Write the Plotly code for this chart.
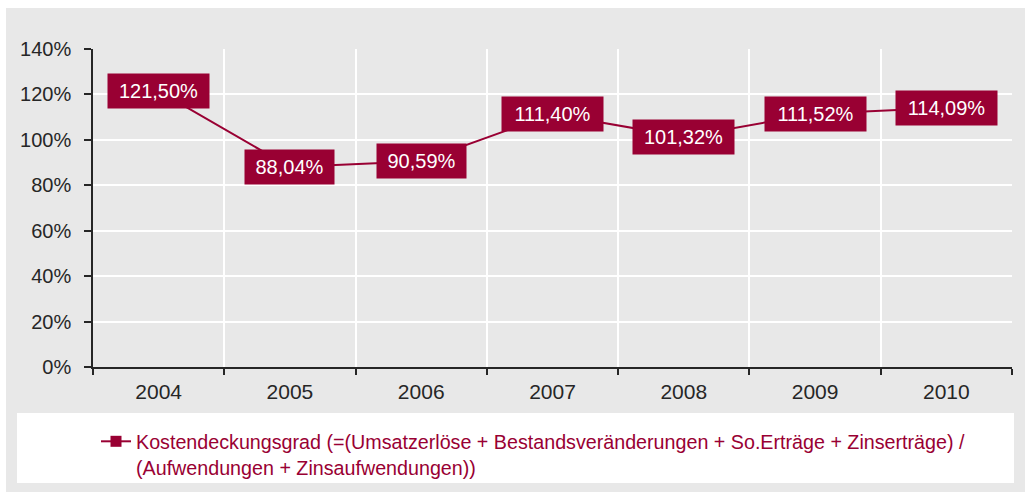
import plotly.graph_objects as go

# Kostendeckungsgrad per year
years = ["2004", "2005", "2006", "2007", "2008", "2009", "2010"]
ratio = [121.50, 88.04, 90.59, 111.40, 101.32, 111.52, 114.09]
labels = ["121,50%", "88,04%", "90,59%", "111,40%", "101,32%", "111,52%", "114,09%"]
y_ticks = [0, 20, 40, 60, 80, 100, 120, 140]
y_tick_text = ["0%", "20%", "40%", "60%", "80%", "100%", "120%", "140%"]
series_name = ("Kostendeckungsgrad (=(Umsatzerlöse + Bestandsveränderungen + So.Erträge + Zinserträge) /"
               "<br>(Aufwendungen + Zinsaufwendungen))")

RED = "#990033"
PANEL = "#e8e8e8"
FONT = "Liberation Sans, Arial, sans-serif"

W, H = 1025, 492
ML, MR, MT, MB = 93, 13, 49, 125
PW = W - ML - MR
PH = H - MT - MB


def px_x(x):
    return (x - ML) / PW


def px_y(y):
    return (H - MB - y) / PH


fig = go.Figure()
fig.add_trace(go.Scatter(
    x=years, y=ratio, name=series_name,
    mode="lines+markers",
    line=dict(color=RED, width=2),
    marker=dict(symbol="square", size=11, color=RED),
    showlegend=True,
))

# value boxes centred on each point (category index as x position)
for i, (v, lab) in enumerate(zip(ratio, labels)):
    fig.add_annotation(
        x=i, y=v, xref="x", yref="y", text=lab, showarrow=False,
        xanchor="center", yanchor="middle",
        bgcolor=RED, borderpad=4,
        width=12 * len(lab) + 9, height=26,
        font=dict(family=FONT, size=20, color="white"),
    )

# grey panel and white legend box
fig.add_shape(type="rect", xref="paper", yref="paper", layer="below",
              x0=px_x(6), x1=px_x(1030), y0=px_y(8), y1=px_y(500),
              fillcolor=PANEL, line_width=0)
fig.add_shape(type="rect", xref="paper", yref="paper", layer="below",
              x0=px_x(17), x1=px_x(1014), y0=px_y(413), y1=px_y(483),
              fillcolor="white", line_width=0)

fig.update_layout(
    width=W, height=H,
    margin=dict(l=ML, r=MR, t=MT, b=MB, autoexpand=False),
    paper_bgcolor="white",
    plot_bgcolor="rgba(0,0,0,0)",
    font=dict(family=FONT, size=20, color="#262626"),
    showlegend=True,
    legend=dict(
        xref="container", yref="container",
        x=96 / W, y=1 - 422 / H, xanchor="left", yanchor="top",
        bgcolor="rgba(0,0,0,0)", valign="top",
        font=dict(family=FONT, size=19.7, color=RED),
        tracegroupgap=0,
    ),
    xaxis=dict(
        type="category", range=[-0.5, 6.5],
        tickson="boundaries", ticks="outside", ticklen=6, tickwidth=1.5,
        tickcolor="#262626", tickfont=dict(size=21),
        showline=True, linecolor="#262626", linewidth=1.5,
        showgrid=True, gridcolor="white", gridwidth=2,
        ticklabelstandoff=5, fixedrange=True, automargin=False,
    ),
    yaxis=dict(
        range=[0, 140], tickvals=y_ticks, ticktext=y_tick_text,
        ticks="outside", ticklen=7, tickwidth=1.5, tickcolor="#262626",
        showline=True, linecolor="#262626", linewidth=1.5,
        showgrid=True, gridcolor="white", gridwidth=2,
        zeroline=False, ticklabelstandoff=9, fixedrange=True, automargin=False,
    ),
)

fig.write_html("out.html")
